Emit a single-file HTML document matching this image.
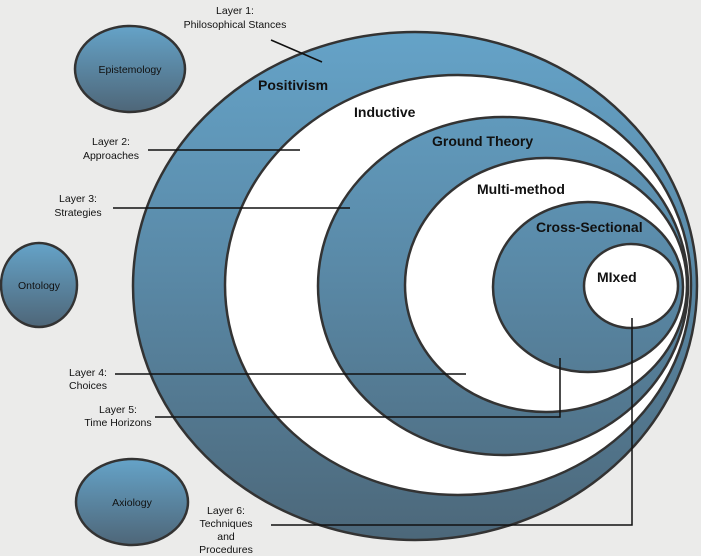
<!DOCTYPE html>
<html><head><meta charset="utf-8"><style>
html,body{margin:0;padding:0;background:#ebebea;}
svg{display:block}
.l{font-family:"Liberation Sans",sans-serif;font-size:10.5px;fill:#111;text-anchor:middle}
.b{font-family:"Liberation Sans",sans-serif;font-size:14px;font-weight:bold;fill:#111}
.s{font-family:"Liberation Sans",sans-serif;font-size:10.5px;fill:#111;text-anchor:middle}
</style></head><body>
<svg width="701" height="556" viewBox="0 0 701 556" xmlns="http://www.w3.org/2000/svg">
<defs>
<linearGradient id="g" gradientUnits="userSpaceOnUse" x1="0" y1="30" x2="0" y2="545">
<stop offset="0" stop-color="#65a3c8"/><stop offset="0.45" stop-color="#5a8aa8"/><stop offset="1" stop-color="#4c6779"/>
</linearGradient>
<linearGradient id="g2" x1="0" y1="0" x2="0" y2="1">
<stop offset="0" stop-color="#65a3c8"/><stop offset="1" stop-color="#4e6678"/>
</linearGradient>
</defs>
<rect width="701" height="556" fill="#ebebea"/>
<g stroke="#333" stroke-width="2.5">
<ellipse cx="415" cy="286" rx="282" ry="254" fill="url(#g)"/>
<ellipse cx="458" cy="285" rx="233" ry="210" fill="#fff"/>
<ellipse cx="503" cy="286" rx="185" ry="169" fill="url(#g)"/>
<ellipse cx="546" cy="285" rx="141" ry="127" fill="#fff"/>
<ellipse cx="588" cy="287" rx="95" ry="85" fill="url(#g)"/>
<ellipse cx="631" cy="286" rx="47" ry="42" fill="#fff"/>
<ellipse cx="130" cy="69" rx="55" ry="43" fill="url(#g2)"/>
<ellipse cx="39" cy="285" rx="38" ry="42" fill="url(#g2)"/>
<ellipse cx="132" cy="502" rx="56" ry="43" fill="url(#g2)"/>
</g>
<g stroke="#111" stroke-width="1.5" fill="none">
<line x1="271" y1="40" x2="322" y2="62"/>
<line x1="148" y1="150" x2="300" y2="150"/>
<line x1="113" y1="208" x2="350" y2="208"/>
<line x1="115" y1="374" x2="466" y2="374"/>
<polyline points="155,417 560,417 560,358"/>
<polyline points="271,525 632,525 632,318"/>
</g>
<text class="s" x="130" y="73">Epistemology</text>
<text class="s" x="39" y="289">Ontology</text>
<text class="s" x="132" y="506">Axiology</text>
<text class="l" x="235" y="14">Layer 1:</text>
<text class="l" x="235" y="28">Philosophical Stances</text>
<text class="l" x="111" y="145">Layer 2:</text>
<text class="l" x="111" y="159">Approaches</text>
<text class="l" x="78" y="202">Layer 3:</text>
<text class="l" x="78" y="216">Strategies</text>
<text class="l" x="88" y="376">Layer 4:</text>
<text class="l" x="88" y="389">Choices</text>
<text class="l" x="118" y="413">Layer 5:</text>
<text class="l" x="118" y="426">Time Horizons</text>
<text class="l" x="226" y="514">Layer 6:</text>
<text class="l" x="226" y="527">Techniques</text>
<text class="l" x="226" y="540">and</text>
<text class="l" x="226" y="553">Procedures</text>
<text class="b" x="258" y="90">Positivism</text>
<text class="b" x="354" y="117">Inductive</text>
<text class="b" x="432" y="146">Ground Theory</text>
<text class="b" x="477" y="194">Multi-method</text>
<text class="b" x="536" y="232">Cross-Sectional</text>
<text class="b" x="597" y="282">MIxed</text>
</svg>
</body></html>
